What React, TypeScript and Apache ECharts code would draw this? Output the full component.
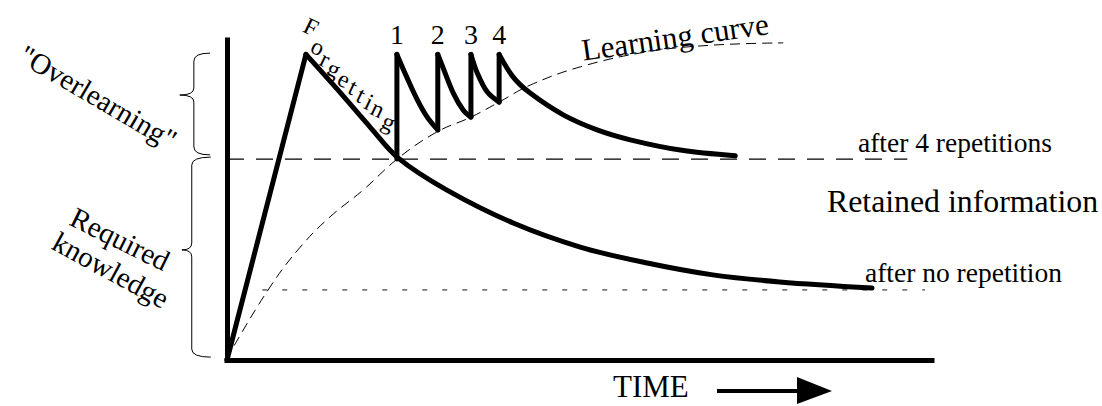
import React, { useEffect, useRef } from "react";
import * as echarts from "echarts";

// ---- data (time on x: 0..100, retention on y: 0..100) ----
const riseSegment: [number, number][] = [
  [0, 0],
  [11.2, 95.5],
];
const forgettingCurve: [number, number][] = [
  [11.2, 95.5], [15.6, 84.7], [20.3, 72.8], [24.3, 63.1], [31.2, 53.1],
  [40.6, 42.8], [50.1, 35.3], [59.6, 30.3], [68.9, 26.6], [78.4, 24.4], [91.5, 22.5],
];
const learningCurve: [number, number][] = [
  [0, 0], [0.4, 2.2], [6.1, 22.8], [10.4, 35.3], [14.6, 44.7], [19.3, 53.1],
  [24.3, 63.1], [29.8, 71.3], [34.6, 75.9], [38.6, 80.6], [43.0, 85.9],
  [50.1, 91.6], [59.6, 96.3], [68.9, 98.4], [78.9, 99.1],
];
const peakLevel = 95.5;
const repetitionX = [24.1, 29.9, 34.6, 38.6];
const repetitionBase = [62.8, 71.9, 75.9, 80.6];
const repetitionLabels = ["1", "2", "3", "4"];
const decay1: [number, number][] = [[24.1, 95.5], [25.5, 88.4], [27.0, 81.3], [28.4, 75.9], [29.9, 71.9]];
const decay2: [number, number][] = [[29.9, 95.5], [30.6, 91.6], [32.1, 83.4], [33.5, 78.1], [34.6, 75.9]];
const decay3: [number, number][] = [[34.6, 95.5], [35.5, 89.7], [36.9, 83.8], [38.6, 80.6]];
const decay4: [number, number][] = [
  [38.6, 95.5], [40.6, 88.4], [43.0, 83.4], [47.7, 76.6], [52.5, 71.9],
  [57.2, 68.8], [64.3, 65.6], [72.1, 63.8],
];
const requiredLevel = 62.8;
const requiredLineEnd = 96.5;
const noRepetitionLevel = 21.9;
const noRepetitionRange = [5.0, 99.0];
// braces: [xTip, xSpine, xCusp, yTop, yCusp, yBottom]
const braces: number[][] = [
  [-2.4, -4.7, -6.7, 95.9, 82.8, 64.1],
  [-2.3, -5.0, -6.4, 63.4, 34.4, 0.9],
];
const forgettingLetters = ["F", "o", "r", "g", "e", "t", "t", "i", "n", "g"];

const SERIF = "Liberation Serif";

export default function App() {
  const ref = useRef<HTMLDivElement>(null);
  useEffect(() => {
    if (!ref.current) return;
    const chart = echarts.init(ref.current, undefined, { renderer: "svg" });

    const thick = { color: "#000", width: 5, cap: "round" as const, join: "round" as const };
    const lineBase = { type: "line" as const, symbol: "none", silent: true };

    const series: any[] = [
      {
        ...lineBase,
        name: "Required knowledge",
        data: [[0, requiredLevel], [requiredLineEnd, requiredLevel]],
        lineStyle: { color: "#000", width: 1.3, type: [17, 12] },
        z: 1,
      },
      {
        ...lineBase,
        name: "after no repetition level",
        data: [[noRepetitionRange[0], noRepetitionLevel], [noRepetitionRange[1], noRepetitionLevel]],
        lineStyle: { color: "#7a7a7a", width: 1.6, type: [5, 15] },
        z: 1,
      },
      {
        ...lineBase,
        name: "Learning curve",
        data: learningCurve,
        smooth: 0.4,
        lineStyle: { color: "#000", width: 1, type: [10, 6] },
        z: 2,
      },
      { ...lineBase, name: "rise", data: riseSegment, lineStyle: thick, z: 3 },
      { ...lineBase, name: "Forgetting", data: forgettingCurve, smooth: 0.35, lineStyle: thick, z: 3 },
      ...repetitionX.map((x, i) => ({
        ...lineBase,
        name: "repetition " + repetitionLabels[i],
        data: [[x, repetitionBase[i]], [x, peakLevel]],
        lineStyle: thick,
        z: 3,
      })),
      ...[decay1, decay2, decay3, decay4].map((d, i) => ({
        ...lineBase,
        name: "decay " + (i + 1),
        data: d,
        smooth: 0.35,
        lineStyle: thick,
        z: 3,
      })),
      {
        type: "custom",
        name: "braces",
        silent: true,
        clip: false,
        data: braces,
        encode: { x: [0, 1, 2], y: [3, 4, 5] },
        renderItem: (_params: any, api: any) => {
          const xT = api.coord([api.value(0), 0])[0];
          const xS = api.coord([api.value(1), 0])[0];
          const xC = api.coord([api.value(2), 0])[0];
          const yT = api.coord([0, api.value(3)])[1];
          const yC = api.coord([0, api.value(4)])[1];
          const yB = api.coord([0, api.value(5)])[1];
          const d =
            `M ${xT} ${yT} Q ${xS} ${yT} ${xS} ${yT + 8} L ${xS} ${yC - 7} ` +
            `Q ${xS} ${yC} ${xC} ${yC} Q ${xS} ${yC} ${xS} ${yC + 7} ` +
            `L ${xS} ${yB - 8} Q ${xS} ${yB} ${xT} ${yB}`;
          return {
            type: "path",
            shape: { pathData: d },
            style: { fill: "none", stroke: "#000", lineWidth: 1 },
          };
        },
        z: 4,
      },
    ];

    const axisCommon = {
      type: "value" as const,
      min: 0,
      max: 100,
      axisLine: { show: true, lineStyle: { color: "#000", width: 5, cap: "square" } },
      axisTick: { show: false },
      axisLabel: { show: false },
      splitLine: { show: false },
    };

    chart.setOption({
      animation: false,
      backgroundColor: "#fff",
      textStyle: { fontFamily: SERIF },
      grid: { left: 227, right: 170, top: 40, bottom: 46 },
      xAxis: axisCommon,
      yAxis: axisCommon,
      series,
    });

    const letterPos = [
      [311, 27], [318, 47], [325, 59], [334, 69], [344, 79],
      [353, 87], [361, 95], [369, 102], [378, 109], [389, 122],
    ];

    const txt = (text: string, x: number, y: number, fontSize: number, extra: any = {}) => ({
      type: "text",
      x,
      y,
      rotation: extra.rotation || 0,
      silent: true,
      style: {
        text,
        font: `${fontSize}px '${SERIF}'`,
        fill: "#000",
        align: extra.align || "left",
        verticalAlign: extra.verticalAlign || "middle",
      },
    });

    // repetition numbers anchored on the data tops
    const numberTexts = repetitionX.map((x, i) => {
      const p = chart.convertToPixel({ gridIndex: 0 }, [x, peakLevel]) as number[];
      return txt(repetitionLabels[i], p[0], p[1] - 6, 28, { align: "center", verticalAlign: "bottom" });
    });

    const graphic: any[] = [
      txt('"Overlearning"', 98, 97, 29, { align: "center", rotation: -0.53 }),
      txt("Required", 120, 239, 29, { align: "center", rotation: -0.46 }),
      txt("knowledge", 111, 270, 29, { align: "center", rotation: -0.5 }),
      txt("Learning curve", 675, 37, 31, { align: "center", rotation: 0.143 }),
      txt("after 4 repetitions", 858, 142.6, 27.5),
      txt("Retained information", 827, 201.2, 31.8),
      txt("after no repetition", 865, 272.6, 27.5),
      txt("TIME", 613, 386.5, 31),
      ...numberTexts,
      ...forgettingLetters.map((ch, i) =>
        txt(ch, letterPos[i][0], letterPos[i][1], 24, { align: "center", rotation: -0.45 })
      ),
      {
        type: "line",
        silent: true,
        shape: { x1: 717, y1: 391, x2: 800, y2: 391 },
        style: { stroke: "#000", lineWidth: 4 },
      },
      {
        type: "polygon",
        silent: true,
        shape: { points: [[797, 377], [832, 391], [797, 404]] },
        style: { fill: "#000" },
      },
    ];

    chart.setOption({ graphic });
    return () => chart.dispose();
  }, []);
  return (
    <div
      ref={ref}
      style={{ position: "absolute", left: 0, top: 0, width: 1102, height: 406, background: "#fff" }}
    />
  );
}
